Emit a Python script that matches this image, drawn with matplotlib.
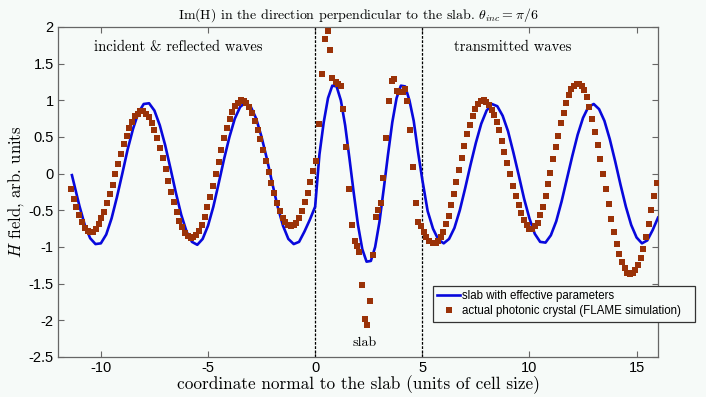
import numpy as np
from matplotlib import pyplot as plt

plt.rcParams['mathtext.fontset'] = 'cm'
plt.rcParams['axes.unicode_minus'] = False

# slab with effective parameters (blue line)
x_eff = [-11.35, -11.25, -11.0, -10.75, -10.5, -10.25, -10.0, -9.75, -9.5, -9.25,
         -9.0, -8.75, -8.5, -8.25, -8.0, -7.75, -7.5, -7.25, -7.0, -6.75,
         -6.5, -6.25, -6.0, -5.75, -5.5, -5.25, -5.0, -4.75, -4.5, -4.25,
         -4.0, -3.75, -3.5, -3.25, -3.0, -2.75, -2.5, -2.25, -2.0, -1.75,
         -1.5, -1.25, -1.0, -0.75, -0.5, -0.25, 0.0,
         0.2, 0.4, 0.6, 0.8, 1.0, 1.2, 1.4, 1.6, 1.8, 2.0, 2.2, 2.4, 2.6, 2.8,
         3.0, 3.2, 3.4, 3.6, 3.8, 4.0, 4.2, 4.4, 4.6, 4.8, 5.0,
         5.25, 5.5, 5.75, 6.0, 6.25, 6.5, 6.75, 7.0, 7.25, 7.5, 7.75, 8.0,
         8.25, 8.5, 8.75, 9.0, 9.25, 9.5, 9.75, 10.0, 10.25, 10.5, 10.75, 11.0,
         11.25, 11.5, 11.75, 12.0, 12.25, 12.5, 12.75, 13.0, 13.25, 13.5, 13.75,
         14.0, 14.25, 14.5, 14.75, 15.0, 15.25, 15.5, 15.75, 16.0]
h_eff = [-0.02, -0.14, -0.44, -0.70, -0.88, -0.96, -0.95, -0.83, -0.61, -0.32,
         0.0, 0.33, 0.61, 0.83, 0.95, 0.96, 0.86, 0.66, 0.39, 0.07,
         -0.26, -0.56, -0.79, -0.93, -0.97, -0.89, -0.71, -0.45, -0.13, 0.20,
         0.50, 0.75, 0.91, 0.97, 0.91, 0.75, 0.50, 0.20, -0.13, -0.45,
         -0.71, -0.89, -0.96, -0.93, -0.79, -0.63, -0.45,
         0.26, 0.70, 1.03, 1.20, 1.19, 1.00, 0.66, 0.21, -0.26, -0.70, -1.03, -1.20, -1.19, -1.00,
         -0.66, -0.21, 0.26, 0.70, 1.03, 1.20, 1.19, 1.00, 0.72, 0.30, -0.08,
         -0.51, -0.75, -0.90, -0.95, -0.89, -0.74, -0.50, -0.20, 0.12, 0.42, 0.68, 0.86,
         0.95, 0.92, 0.79, 0.58, 0.29, -0.02, -0.34, -0.61, -0.82, -0.93, -0.94, -0.84,
         -0.65, -0.38, -0.07, 0.24, 0.53, 0.76, 0.91, 0.95, 0.88, 0.72, 0.47,
         0.17, -0.15, -0.45, -0.70, -0.87, -0.95, -0.91, -0.77, -0.60]

# actual photonic crystal, FLAME simulation (brown squares)
x_flame = [-11.40, -11.27, -11.14, -11.01, -10.88, -10.75, -10.62, -10.49, -10.36, -10.23,
           -10.10, -9.97, -9.84, -9.71, -9.58, -9.45, -9.32, -9.19, -9.06, -8.93,
           -8.80, -8.67, -8.54, -8.41, -8.28, -8.15, -8.02, -7.89, -7.76, -7.63,
           -7.50, -7.37, -7.24, -7.11, -6.98, -6.85, -6.72, -6.59, -6.46, -6.33,
           -6.20, -6.07, -5.94, -5.81, -5.68, -5.55, -5.42, -5.29, -5.16, -5.03,
           -4.90, -4.77, -4.64, -4.51, -4.38, -4.25, -4.12, -3.99, -3.86, -3.73,
           -3.60, -3.47, -3.34, -3.21, -3.08, -2.95, -2.82, -2.69, -2.56, -2.43,
           -2.30, -2.17, -2.04, -1.91, -1.78, -1.65, -1.52, -1.39, -1.26, -1.13,
           -1.00, -0.87, -0.74, -0.61, -0.48, -0.35, -0.22, -0.09, 0.04,
           0.19, 0.31, 0.44, 0.58, 0.70, 0.81, 0.97, 1.09, 1.20, 1.32,
           1.46, 1.59, 1.70, 1.84, 1.95, 2.06, 2.18, 2.32, 2.44, 2.56,
           2.68, 2.82, 2.94, 3.07, 3.19, 3.32, 3.44, 3.57, 3.69, 3.82,
           3.93, 4.08, 4.21, 4.31, 4.44, 4.58, 4.70, 4.81,
           4.94, 5.06, 5.17, 5.33, 5.48, 5.64, 5.75, 5.87, 5.98, 6.11,
           6.23, 6.34, 6.46, 6.59, 6.70, 6.84, 6.96, 7.09, 7.21, 7.35,
           7.48, 7.62, 7.74, 7.86, 7.99, 8.13, 8.26, 8.36, 8.49, 8.60,
           8.72, 8.83, 8.96, 9.10, 9.22, 9.35, 9.49, 9.61, 9.73, 9.87,
           10.00, 10.13, 10.27, 10.39, 10.51, 10.62, 10.75, 10.86, 10.98, 11.11,
           11.23, 11.34, 11.46, 11.59, 11.71, 11.84, 11.96, 12.07, 12.20, 12.32,
           12.43, 12.56, 12.68, 12.80, 12.93, 13.05, 13.18, 13.30, 13.43, 13.57,
           13.69, 13.82, 13.94, 14.07, 14.19, 14.31, 14.44, 14.57, 14.69, 14.81,
           14.94, 15.06, 15.19, 15.31, 15.44, 15.56, 15.69, 15.81, 15.94]
h_flame = [-0.21, -0.35, -0.46, -0.57, -0.66, -0.74, -0.78, -0.80, -0.79, -0.75,
           -0.69, -0.61, -0.52, -0.40, -0.28, -0.15, -0.01, 0.13, 0.27, 0.40,
           0.51, 0.62, 0.71, 0.78, 0.82, 0.85, 0.85, 0.82, 0.77, 0.69,
           0.60, 0.48, 0.35, 0.21, 0.06, -0.10, -0.25, -0.39, -0.52, -0.64,
           -0.73, -0.81, -0.85, -0.88, -0.87, -0.84, -0.78, -0.70, -0.59, -0.46,
           -0.32, -0.17, 0.00, 0.16, 0.32, 0.48, 0.62, 0.74, 0.84, 0.92,
           0.97, 1.00, 0.99, 0.96, 0.91, 0.83, 0.72, 0.60, 0.47, 0.32,
           0.17, 0.02, -0.13, -0.27, -0.40, -0.51, -0.60, -0.66, -0.70, -0.71,
           -0.70, -0.67, -0.61, -0.51, -0.39, -0.26, -0.12, 0.03, 0.17,
           0.68, 1.36, 1.83, 1.945, 1.68, 1.31, 1.25, 1.22, 1.19, 0.88,
           0.37, -0.21, -0.70, -0.92, -0.99, -1.07, -1.52, -1.98, -2.06, -1.74,
           -1.11, -0.59, -0.50, -0.40, -0.06, 0.49, 0.99, 1.27, 1.29, 1.13,
           1.12, 1.12, 1.15, 0.99, 0.59, 0.09, -0.40, -0.66,
           -0.71, -0.79, -0.86, -0.92, -0.95, -0.95, -0.92, -0.86, -0.79, -0.69,
           -0.58, -0.43, -0.28, -0.11, 0.05, 0.21, 0.38, 0.54, 0.66, 0.78,
           0.88, 0.95, 0.99, 1.00, 0.98, 0.94, 0.87, 0.80, 0.71, 0.59,
           0.44, 0.30, 0.15, -0.01, -0.17, -0.31, -0.43, -0.54, -0.63, -0.70,
           -0.75, -0.76, -0.72, -0.67, -0.565, -0.45, -0.31, -0.14, 0.01, 0.195,
           0.36, 0.52, 0.69, 0.83, 0.96, 1.07, 1.15, 1.20, 1.22, 1.22,
           1.195, 1.14, 1.05, 0.91, 0.74, 0.57, 0.39, 0.195, -0.01, -0.21,
           -0.41, -0.615, -0.79, -0.96, -1.10, -1.21, -1.29, -1.35, -1.37, -1.35,
           -1.315, -1.25, -1.15, -1.03, -0.87, -0.69, -0.50, -0.31, -0.13]

slab_edges = [0, 5]
x_ticks = [-10, -5, 0, 5, 10, 15]
y_ticks = [-2.5, -2, -1.5, -1, -0.5, 0, 0.5, 1, 1.5, 2]
y_ticklabels = ['-2.5', '-2', '-1.5', '-1', '-0.5', '0', '0.5', '1', '1.5', '2']

bg = '#f6faf8'
serif = 'cmr10'

fig = plt.figure(figsize=(7.06, 3.97), dpi=100, facecolor=bg)
ax = fig.add_axes([58 / 706, 1 - 357 / 397, 600 / 706, 330 / 397], facecolor=bg)

# curves
ax.plot(x_eff, h_eff, color='#0808dc', linewidth=1.9, solid_joinstyle='round',
        label='slab with effective parameters', zorder=3)
ax.plot(x_flame, h_flame, linestyle='none', marker='s', markersize=3.8, color='#9a3208',
        markeredgewidth=0, label='actual photonic crystal (FLAME simulation)   ', zorder=4)

# slab boundaries
for xe in slab_edges:
    ax.axvline(xe, color='black', linestyle=(0, (2.2, 1.2)), linewidth=0.9, zorder=2)

ax.set_xlim(-12, 16)
ax.set_ylim(-2.5, 2)
ax.set_xticks(x_ticks)
ax.set_xticklabels([str(t) for t in x_ticks])
ax.set_yticks(y_ticks)
ax.set_yticklabels(y_ticklabels)
ax.tick_params(direction='in', length=4.5, width=0.8, color='#666666', top=True, right=True,
               labelsize=10.5, pad=3)
for lab in ax.get_xticklabels() + ax.get_yticklabels():
    lab.set_fontfamily('Liberation Sans')
for s in ax.spines.values():
    s.set_color('#666666')
    s.set_linewidth(0.9)

# texts
ax.text(-10.3, 1.73, 'incident & reflected waves', family=serif, fontsize=10.5, va='center')
ax.text(9.2, 1.72, 'transmitted waves', family=serif, fontsize=10.5, va='center', ha='center')
ax.text(2.3, -2.31, 'slab', family=serif, fontsize=10, va='center', ha='center')

ax.set_title(r'Im(H) in the direction perpendicular to the slab. $\theta_{inc} = \pi/6$',
             family=serif, fontsize=10, pad=6)
ax.set_xlabel('coordinate normal to the slab (units of cell size)', family=serif, fontsize=12.4, labelpad=0)
ax.set_ylabel(r'$H$ field, arb. units', family=serif, fontsize=12, labelpad=2)

leg = ax.legend(loc='upper left', bbox_to_anchor=(433 / 706, 1 - 286 / 397),
                bbox_transform=fig.transFigure, prop={'family': 'Liberation Sans', 'size': 8.3},
                fancybox=False, framealpha=1, facecolor=bg, edgecolor='#333333',
                borderaxespad=0, borderpad=0.35, handlelength=2.0, handletextpad=0.2,
                labelspacing=0.3, numpoints=1)
leg.get_frame().set_linewidth(0.9)

fig.savefig('out.png', dpi=100, facecolor=bg)
